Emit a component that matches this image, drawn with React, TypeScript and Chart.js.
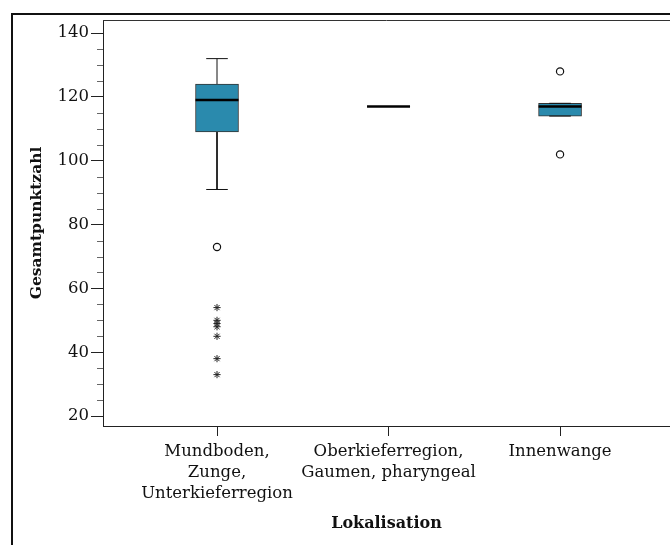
import React, { useEffect, useRef } from 'react';
import { Chart, registerables } from 'chart.js';

Chart.register(...registerables);

// ---- data ----
const categories: string[][] = [
  ['Mundboden,', 'Zunge,', 'Unterkieferregion'],
  ['Oberkieferregion,', 'Gaumen, pharyngeal'],
  ['Innenwange'],
];
const categoryPositions = [1, 2, 3];
const whiskerLow = [91, 117, 114];
const q1 = [109, 117, 114];
const median = [119, 117, 117];
const q3 = [124, 117, 118];
const whiskerHigh = [132, 117, 118];
const outliersCircle: number[][] = [[73], [], [128, 102]];
const outliersExtreme: number[][] = [[54, 50, 49, 48, 45, 38, 33], [], []];
const yTicks = [20, 40, 60, 80, 100, 120, 140];
const yMinorStep = 5;
const yTitle = 'Gesamtpunktzahl';
const xTitle = 'Lokalisation';

const FONT = "'DejaVu Serif', serif";
const BOX_FILL = '#2a8aad';

const framePlugin = {
  id: 'frameAndMinorTicks',
  afterDraw(chart: any) {
    const { ctx, chartArea, scales } = chart;
    ctx.save();
    ctx.lineWidth = 1;
    ctx.strokeStyle = '#333';
    ctx.beginPath();
    ctx.moveTo(chartArea.left, Math.round(chartArea.top) + 0.5);
    ctx.lineTo(chartArea.right, Math.round(chartArea.top) + 0.5);
    ctx.stroke();
    const ys = scales.y;
    ctx.strokeStyle = '#666';
    const lo = yTicks[0];
    const hi = yTicks[yTicks.length - 1];
    for (let v = lo; v <= hi; v += yMinorStep) {
      if (yTicks.includes(v)) continue;
      const py = Math.round(ys.getPixelForValue(v)) + 0.5;
      ctx.beginPath();
      ctx.moveTo(chartArea.left - 6, py);
      ctx.lineTo(chartArea.left, py);
      ctx.stroke();
    }
    ctx.restore();
  },
};

export default function App() {
  const ref = useRef<HTMLCanvasElement | null>(null);

  useEffect(() => {
    if (!ref.current) return;

    const boxData = categoryPositions.map((x, i) => ({ x, y: [q1[i], q3[i]] }));
    const whiskerData: any[] = [];
    categoryPositions.forEach((x, i) => {
      if (whiskerHigh[i] > q3[i]) {
        whiskerData.push({ x, y: q3[i] }, { x, y: whiskerHigh[i] }, { x, y: null });
      }
      if (whiskerLow[i] < q1[i]) {
        whiskerData.push({ x, y: q1[i] }, { x, y: whiskerLow[i] }, { x, y: null });
      }
    });
    const capData: any[] = [];
    categoryPositions.forEach((x, i) => {
      capData.push({ x, y: whiskerLow[i] }, { x, y: whiskerHigh[i] });
    });
    const medianData = categoryPositions.map((x, i) => ({ x, y: median[i] }));
    const circleData: any[] = [];
    outliersCircle.forEach((arr, i) => arr.forEach((v) => circleData.push({ x: categoryPositions[i], y: v })));
    const starData: any[] = [];
    outliersExtreme.forEach((arr, i) => arr.forEach((v) => starData.push({ x: categoryPositions[i], y: v })));

    const chart = new Chart(ref.current, {
      type: 'bar',
      data: {
        datasets: [
          {
            type: 'line',
            data: whiskerData,
            borderColor: '#111',
            borderWidth: 1,
            pointRadius: 0,
            spanGaps: false,
            order: 5,
          } as any,
          {
            type: 'bar',
            data: boxData,
            backgroundColor: BOX_FILL,
            borderColor: '#333',
            borderWidth: 1,
            borderSkipped: false,
            barThickness: 43,
            order: 4,
          } as any,
          {
            type: 'line',
            data: capData,
            showLine: false,
            pointStyle: 'line',
            pointRadius: 10.8,
            pointBorderWidth: 1,
            pointBorderColor: '#111',
            order: 3,
          } as any,
          {
            type: 'line',
            data: medianData,
            showLine: false,
            pointStyle: 'line',
            pointRadius: 21.5,
            pointBorderWidth: 2.5,
            pointBorderColor: '#000',
            order: 2,
          } as any,
          {
            type: 'line',
            data: circleData,
            showLine: false,
            pointStyle: 'circle',
            pointRadius: 3.6,
            pointBorderWidth: 1.2,
            pointBorderColor: '#111',
            pointBackgroundColor: '#fff',
            order: 1,
          } as any,
          {
            type: 'line',
            data: starData,
            showLine: false,
            pointStyle: 'star',
            pointRadius: 3.6,
            pointBorderWidth: 1,
            pointBorderColor: '#222',
            order: 0,
          } as any,
        ],
      },
      options: {
        responsive: false,
        animation: false,
        layout: { autoPadding: false, padding: { top: 20, left: 0, right: 0, bottom: 0 } },
        plugins: { legend: { display: false }, tooltip: { enabled: false } },
        scales: {
          x: {
            type: 'linear',
            offset: false,
            min: 0.3353,
            max: 3.641,
            grid: { display: true, offset: false, drawOnChartArea: false, drawTicks: true, tickLength: 10, color: '#222' },
            border: { display: true, color: '#222', width: 1 },
            afterBuildTicks: (scale: any) => {
              scale.ticks = categoryPositions.map((v) => ({ value: v }));
            },
            afterFit: (scale: any) => {
              scale.height = 119;
            },
            ticks: {
              autoSkip: false,
              maxRotation: 0,
              minRotation: 0,
              padding: 5.5,
              color: '#111',
              font: { family: FONT, size: 16.5, lineHeight: '21px' as any },
              callback: (value: any) => {
                const idx = categoryPositions.indexOf(Number(value));
                return idx >= 0 ? categories[idx] : '';
              },
            },
            title: {
              display: true,
              text: xTitle,
              color: '#111',
              font: { family: FONT, size: 16, weight: 'bold' },
              padding: { top: 0, bottom: 11.4 },
            },
          },
          y: {
            type: 'linear',
            min: 16.9,
            max: 144.1,
            grid: { display: true, drawOnChartArea: false, drawTicks: true, tickLength: 12, color: '#222' },
            border: { display: true, color: '#222', width: 1 },
            afterBuildTicks: (scale: any) => {
              scale.ticks = yTicks.map((v) => ({ value: v }));
            },
            afterFit: (scale: any) => {
              scale.width = 103;
            },
            ticks: {
              padding: 2,
              color: '#111',
              font: { family: FONT, size: 16.5 },
              callback: (value: any) => String(value),
            },
            title: {
              display: true,
              text: yTitle,
              color: '#111',
              font: { family: FONT, size: 15.5, weight: 'bold' },
              padding: { top: 28, bottom: 0 },
            },
          },
        },
      },
      plugins: [framePlugin],
    } as any);

    return () => chart.destroy();
  }, []);

  return (
    <div style={{ position: 'fixed', left: 0, top: 0, width: 670, height: 545, background: '#fff', overflow: 'hidden' }}>
      <div
        style={{
          position: 'absolute',
          left: 11,
          top: 13,
          width: 670,
          height: 545,
          borderTop: '2px solid #111',
          borderLeft: '2px solid #111',
          boxSizing: 'border-box',
        }}
      />
      <canvas ref={ref} width={670} height={545} style={{ position: 'absolute', left: 0, top: 0 }} />
    </div>
  );
}
